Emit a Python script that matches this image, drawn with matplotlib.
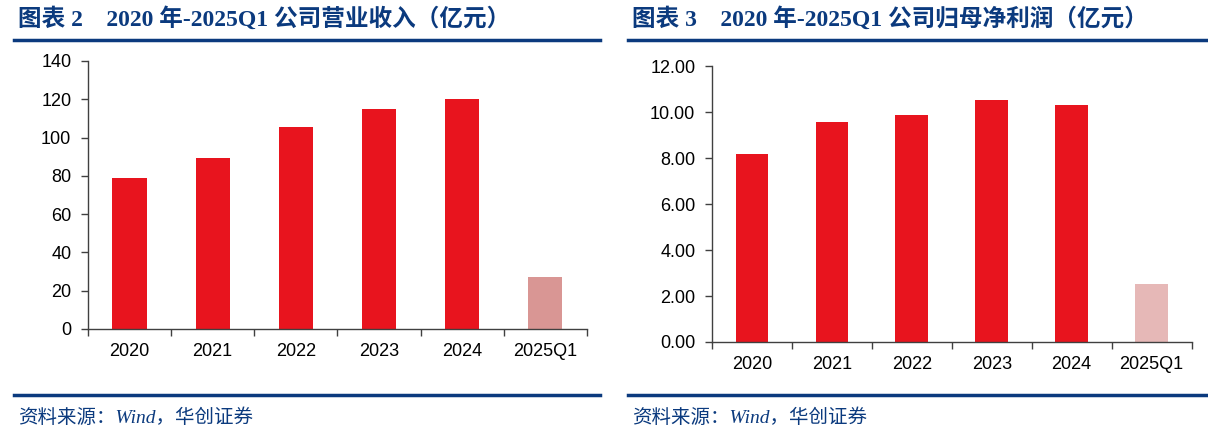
import matplotlib
matplotlib.use("Agg")
import matplotlib.pyplot as plt
from matplotlib.lines import Line2D

categories = ["2020", "2021", "2022", "2023", "2024", "2025Q1"]
revenue = [78.9, 89.3, 105.5, 114.9, 120.2, 27.2]
net_profit = [8.17, 9.57, 9.87, 10.52, 10.30, 2.52]

title_left = "图表 2    2020 年-2025Q1 公司营业收入（亿元）"
title_right = "图表 3    2020 年-2025Q1 公司归母净利润（亿元）"
source_text = "资料来源：Wind，华创证券"

NAVY = "#0B3A7E"
RED = "#E8141E"
serif_cjk = ["Liberation Serif", "Noto Sans CJK SC"]

plt.rcParams["font.family"] = ["Liberation Sans", "Noto Sans CJK SC"]

fig = plt.figure(figsize=(12.08, 4.38), dpi=100, facecolor="white")


def bar_panel(rect, values, light, ymax, step, fmt):
    ax = fig.add_axes(rect)
    x = range(len(categories))
    colors = [RED] * (len(values) - 1) + [light]
    ax.bar(x, values, width=0.41, color=colors, zorder=2)
    ax.set_xlim(-0.5, len(categories) - 0.5)
    ax.set_ylim(0, ymax)
    ax.set_xticks(list(x))
    ax.set_xticklabels(categories, fontsize=13)
    ax.set_xticks([i - 0.5 for i in range(len(categories) + 1)], minor=True)
    ax.tick_params(axis="x", which="major", length=0, pad=10)
    ax.tick_params(axis="x", which="minor", length=5, width=1, color="#404040", direction="out")
    yt = [i * step for i in range(int(round(ymax / step)) + 1)]
    ax.set_yticks(yt)
    ax.set_yticklabels([fmt.format(v) for v in yt], fontsize=13)
    ax.tick_params(axis="y", length=5, width=1, color="#404040", pad=7)
    for s in ("top", "right"):
        ax.spines[s].set_visible(False)
    for s in ("left", "bottom"):
        ax.spines[s].set_color("#404040")
        ax.spines[s].set_linewidth(1)
    return ax


bar_panel([0.0728, 0.2489, 0.413, 0.612], revenue, "#D99694", 140, 20, "{:.0f}")
bar_panel([0.5894, 0.2192, 0.397, 0.630], net_profit, "#E6B8B7", 12, 2, "{:.2f}")

# titles, rules and sources
for x0, x1, title in [(14, 600, title_left), (628, 1208, title_right)]:
    fig.text((x0 + 4) / 1208, 1 - 19 / 438, title, fontsize=17, fontweight="bold",
             color=NAVY, family=serif_cjk, va="center", ha="left")
    for y in (40, 395):
        fig.add_artist(Line2D([x0 / 1208, x1 / 1208], [1 - y / 438, 1 - y / 438],
                              color=NAVY, linewidth=2.5, transform=fig.transFigure))
    fig.text((x0 + 4) / 1208, 1 - 418 / 438, source_text, fontsize=14, style="italic",
             color=NAVY, family=serif_cjk, va="center", ha="left")

fig.savefig("out.png", dpi=100, facecolor="white")
plt.close(fig)
